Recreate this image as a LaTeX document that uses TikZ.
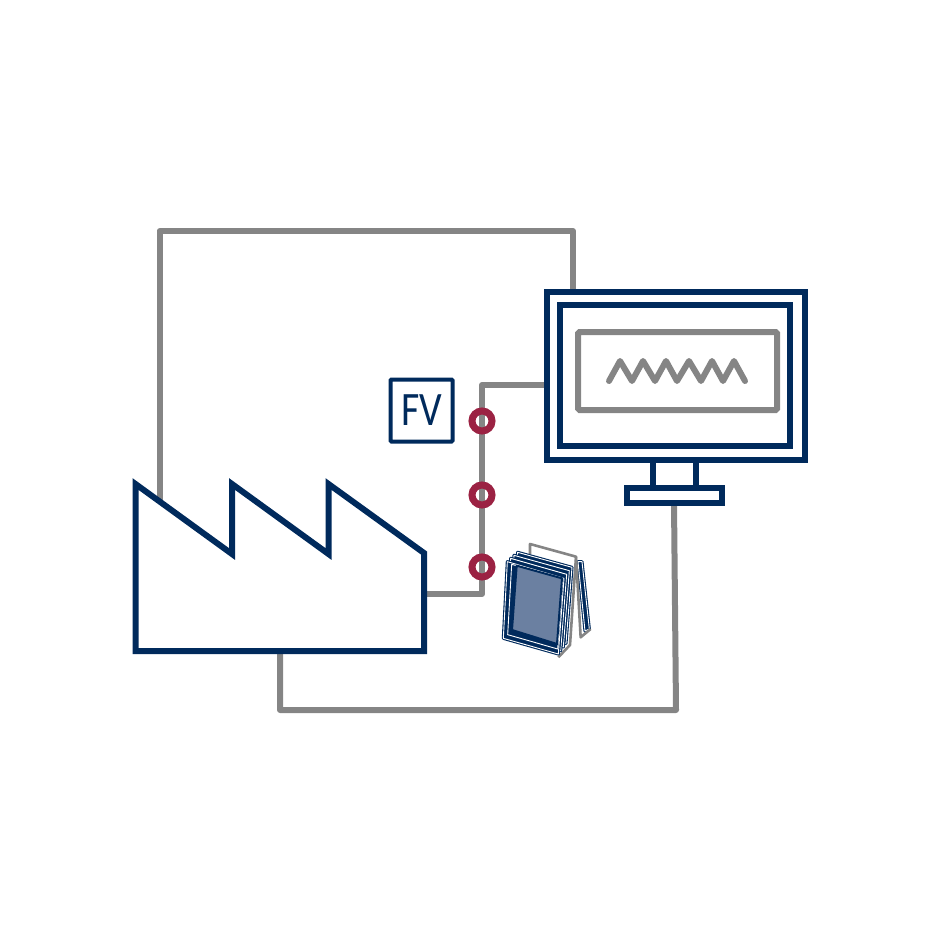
\documentclass[tikz,border=0pt]{standalone}
\usepackage{fontspec}
\setsansfont{Carlito}
\usetikzlibrary{calc,backgrounds}
\definecolor{navy}{HTML}{002A5C}
\definecolor{wiregray}{HTML}{858585}
\definecolor{ringred}{HTML}{9B2243}
\definecolor{paneblue}{HTML}{6B80A1}
\newcommand{\sheet}[4]{
    \draw[sheetline] #1 -- #2 -- #3 -- #4 -- cycle;
}
\begin{document}
\begin{tikzpicture}[x=1pt,y=-1pt,every node/.style={outer sep=0pt,inner sep=0pt}]

\tikzstyle{wire}=[wiregray,line width=6pt,line join=round]
\tikzstyle{navyline}=[navy,line width=6pt,line join=miter]
\tikzstyle{box}=[draw=navy,line width=6pt,rectangle]
\tikzstyle{ring}=[draw=ringred,line width=7pt,circle,minimum size=20pt]
\tikzstyle{sheetline}=[draw=navy,fill=navy,double=white,double distance=.9pt,line width=1.1pt,line join=round]

\useasboundingbox (0,0) rectangle (940,941);

% monitor
\node (monitor) [box,minimum width=257.5pt,minimum height=167.5pt] at (675.8,376) {};
\node (bezel) [box,minimum width=230pt,minimum height=141pt] at (675,375.5) {};
\node (display) [draw=wiregray,line width=6pt,rounded corners=1.5pt,minimum width=199pt,minimum height=78pt] at (677.5,371) {};
\node (neck) [box,minimum width=43pt,minimum height=28pt] at (674.5,474) {};
\node (foot) [box,fill=white,minimum width=95pt,minimum height=15pt] at (674.5,495.5) {};
\draw[wire,line cap=round] (609,381) -- (620,361) -- (632,381) -- (643,361) -- (655,381) -- (666,361)
    -- (677,381) -- (689,361) -- (701,381) -- (712,361) -- (723,381) -- (734,361) -- (745,381);

% factory
\coordinate (roofA) at (135.5,484);
\coordinate (roofB) at (232,484);
\coordinate (roofC) at (328.5,484);
\draw[navyline] (roofA) -- (232,554) -- (roofB) -- (328.5,554) -- (roofC) -- (424,553) -- (424,651) -- (135.5,651) -- cycle;

% sensors
\node (sensorA) [ring] at (482,421) {};
\node (sensorB) [ring] at (482,495) {};
\node (sensorC) [ring] at (482,567) {};
\node (fv) [draw=navy,line width=4pt,rounded corners=1pt,minimum width=62pt,minimum height=62pt] at (421.5,410.5) {};
\node (fvtext) [navy,font=\sffamily\fontsize{48}{48}\selectfont,xscale=.83] at (fv.center) {FV};

% connections
\coordinate (factoryTop) at (159.5,500);
\coordinate (factoryRight) at (424,594);
\coordinate (factoryBottom) at (280,651);
\coordinate (monitorTop) at (573,292);
\coordinate (monitorLeft) at (547,385);
\coordinate (footBottom) at (674,503);
\coordinate (cornerTop) at (159.5,231);
\coordinate (cornerBottom) at (676,710);
\begin{scope}[on background layer]
\draw[wire] (factoryTop) -- (cornerTop) -| (monitorTop);
\draw[wire] (factoryRight) -| (sensorC.center) -- (sensorB.center) -- (sensorA.center) |- (monitorLeft);
\draw[wire] (factoryBottom) |- (cornerBottom) -- (footBottom);
\end{scope}

% stack of panes
\begin{scope}[shift={(490,530)},x=.3333pt,y=-.3333pt]
\draw[wiregray,line width=2.6pt,line join=round] (120,72) -- (120,42) -- (258,80) -- (240,345) -- (205,382);
\draw[sheetline] (264,95) -- (276,95) -- (298,297) -- (285,303) -- cycle;
\draw[wiregray,line width=2.6pt,line join=round] (258,80) -- (272,322) -- (302,297);
\sheet{(83,67)}{(246,112)}{(228,340)}{(60,295)}
\sheet{(72,76)}{(238,122)}{(220,351)}{(53,305)}
\sheet{(62,85)}{(230,133)}{(212,362)}{(47,315)}
\sheet{(52,95)}{(222,145)}{(205,372)}{(40,325)}
\draw[white,line width=.9pt,line join=round] (65,103) -- (218,146) -- (203,357) -- (53,314) -- cycle;
\draw[navy,line width=2pt,fill=paneblue] (80,107) -- (216,145) -- (201,342) -- (66,300) -- cycle;
\end{scope}
\end{tikzpicture}
\end{document}
